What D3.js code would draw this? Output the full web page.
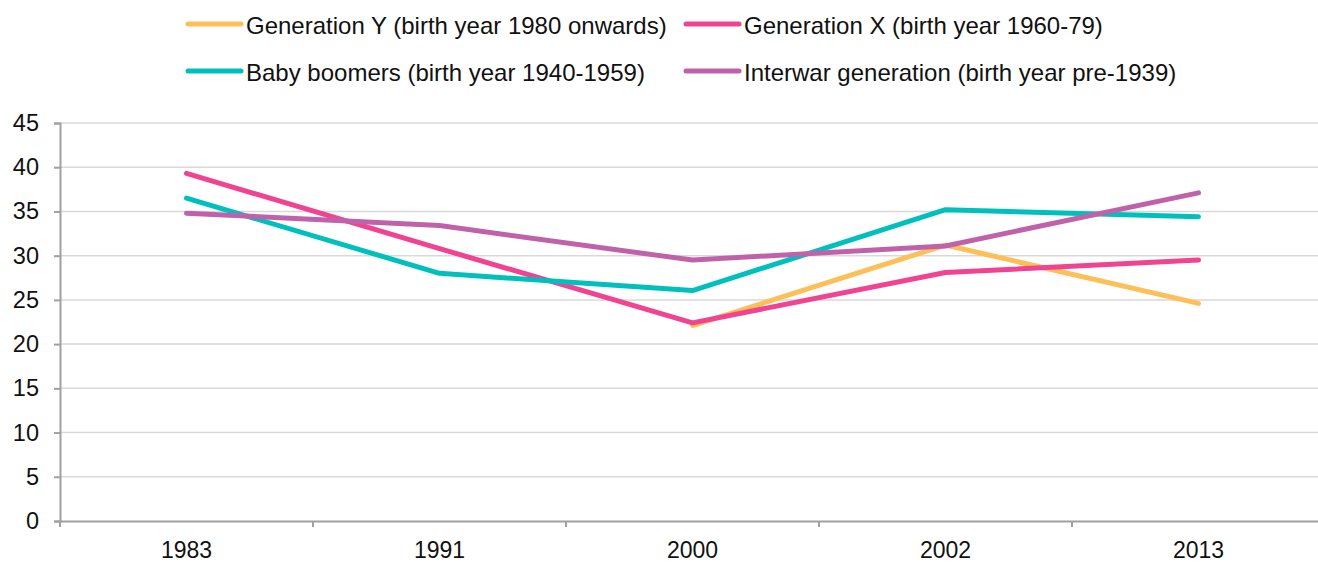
<!DOCTYPE html>
<html>
<head>
<meta charset="utf-8">
<script src="https://cdn.jsdelivr.net/npm/d3@7"></script>
<style>
  body { margin: 0; background: #fff; }
  svg text { font-family: "Liberation Sans", Arial, sans-serif; fill: #111; }
</style>
</head>
<body>
<svg id="chart" width="1318" height="565"></svg>
<script>
// chart data
const years = ['1983', '1991', '2000', '2002', '2013'];
const genY = [null, null, 22.1, 31.2, 24.6];
const genX = [39.3, 30.8, 22.4, 28.1, 29.5];
const boomers = [36.5, 28.0, 26.05, 35.2, 34.4];
const interwar = [34.8, 33.4, 29.5, 31.1, 37.1];
const yTicks = [0, 5, 10, 15, 20, 25, 30, 35, 40, 45];

const series = [
  {name: 'Generation Y (birth year 1980 onwards)', values: genY, color: '#fdbf57'},
  {name: 'Generation X (birth year 1960-79)', values: genX, color: '#f04492'},
  {name: 'Baby boomers (birth year 1940-1959)', values: boomers, color: '#00c0bd'},
  {name: 'Interwar generation (birth year pre-1939)', values: interwar, color: '#c062aa'}
];

const svg = d3.select('#chart');
const margin = {top: 123, left: 60, bottom: 44};
const width = 1325 - margin.left;
const height = 565 - margin.top - margin.bottom;

const x = d3.scaleBand().domain(years).range([0, width]);
const y = d3.scaleLinear().domain([0, 45]).range([height, 0]);

const g = svg.append('g').attr('transform', `translate(${margin.left},${margin.top})`);

// grid lines
g.append('g')
  .selectAll('line')
  .data(yTicks.filter(t => t > 0))
  .join('line')
  .attr('x1', 0)
  .attr('x2', width)
  .attr('y1', d => y(d))
  .attr('y2', d => y(d))
  .attr('stroke', '#d9d9d9')
  .attr('stroke-width', 1.5);

// y axis
const yAxis = g.append('g')
  .call(d3.axisLeft(y).tickValues(yTicks).tickSize(6).tickPadding(15));
yAxis.select('.domain').attr('stroke', '#a0a0a0').attr('stroke-width', 2);
yAxis.selectAll('.tick line').attr('stroke', '#a0a0a0').attr('stroke-width', 2);
yAxis.selectAll('.tick text').style('font-size', '23.5px').attr('fill', '#111');

// x axis, ticks at band edges
const xAxis = g.append('g')
  .attr('transform', `translate(0,${height})`)
  .call(d3.axisBottom(x).tickSize(0).tickPadding(21));
xAxis.select('.domain').attr('stroke', '#a0a0a0').attr('stroke-width', 2);
xAxis.selectAll('.tick text').style('font-size', '23px').attr('fill', '#111');
xAxis.append('g')
  .selectAll('line')
  .data(years)
  .join('line')
  .attr('x1', d => x(d))
  .attr('x2', d => x(d))
  .attr('y1', 0)
  .attr('y2', 6)
  .attr('stroke', '#a0a0a0')
  .attr('stroke-width', 2);

// lines
const line = d3.line()
  .defined(d => d.v !== null)
  .x(d => x(d.year) + x.bandwidth() / 2)
  .y(d => y(d.v));

g.append('g')
  .selectAll('path')
  .data(series)
  .join('path')
  .attr('fill', 'none')
  .attr('stroke', s => s.color)
  .attr('stroke-width', 5)
  .attr('stroke-linejoin', 'round')
  .attr('stroke-linecap', 'round')
  .attr('d', s => line(s.values.map((v, i) => ({year: years[i], v}))));

// legend
const legendPos = [[188, 26], [686, 26], [188, 73], [686, 73]];
const legend = svg.append('g')
  .selectAll('g')
  .data(series)
  .join('g')
  .attr('transform', (s, i) => `translate(${legendPos[i][0]},${legendPos[i][1]})`);
legend.append('line')
  .attr('x1', 0)
  .attr('x2', 53)
  .attr('y1', -2)
  .attr('y2', -2)
  .attr('stroke', s => s.color)
  .attr('stroke-width', 5)
  .attr('stroke-linecap', 'round');
legend.append('text')
  .attr('x', 58)
  .attr('dy', '0.35em')
  .style('font-size', '24px')
  .text(s => s.name);
</script>
</body>
</html>
